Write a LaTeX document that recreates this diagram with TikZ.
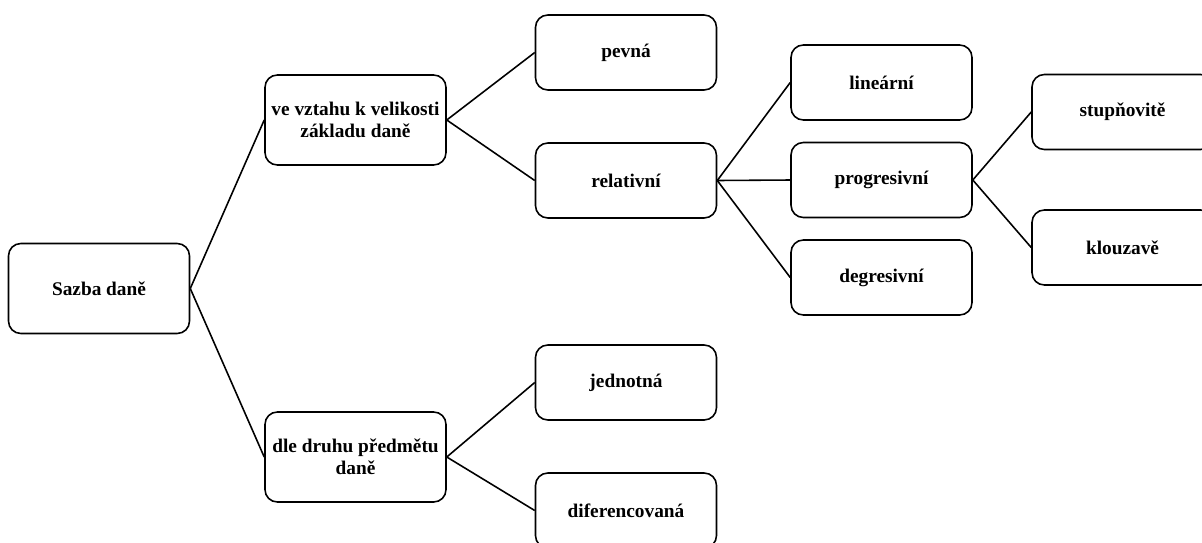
\documentclass[tikz,border=0pt]{standalone}
\usepackage{fontspec}
\setmainfont{Liberation Serif}
\usetikzlibrary{positioning}

\begin{document}
\begin{tikzpicture}[
    x=0.02cm, y=-0.02cm,
    box/.style={draw=black, line width=0.9pt, rounded corners=7pt,
                fill=white, minimum width=3.62cm, minimum height=1.5cm,
                align=center, font=\fontsize{11}{12.5}\selectfont\bfseries},
    bigbox/.style={box, minimum height=1.8cm},
    link/.style={draw=black, line width=0.9pt}
]
    \path[use as bounding box, clip] (0,0) rectangle (1202,542);

    \node[bigbox] (sazba) at (99,288.5) {Sazba daně};

    \node[bigbox] (vztah) at (355.5,120) {ve vztahu k velikosti\\základu daně};
    \node[bigbox] (druh) at (355.5,457) {dle druhu předmětu\\daně};

    \node[box] (pevna) at (626,52.5) {pevná};
    \node[box] (relat) at (626,180.5) {relativní};
    \node[box] (jedn) at (626,382.5) {jednotná};
    \node[box] (difer) at (626,510.5) {diferencovaná};

    \node[box] (linear) at (881.5,82.5) {lineární};
    \node[box] (progres) at (881.5,180) {progresivní};
    \node[box] (degres) at (881.5,277.5) {degresivní};

    \node[box] (stupn) at (1122.5,112) {stupňovitě};
    \node[box] (klouz) at (1122.5,247.5) {klouzavě};

    % Branches
    \draw[link] (sazba.east) -- (vztah.west);
    \draw[link] (sazba.east) -- (druh.west);
    \draw[link] (vztah.east) -- (pevna.west);
    \draw[link] (vztah.east) -- (relat.west);
    \draw[link] (druh.east) -- (jedn.west);
    \draw[link] (druh.east) -- (difer.west);
    \draw[link] (relat.east) -- (linear.west);
    \draw[link] (relat.east) -- (progres.west);
    \draw[link] (relat.east) -- (degres.west);
    \draw[link] (progres.east) -- (stupn.west);
    \draw[link] (progres.east) -- (klouz.west);
\end{tikzpicture}
\end{document}
